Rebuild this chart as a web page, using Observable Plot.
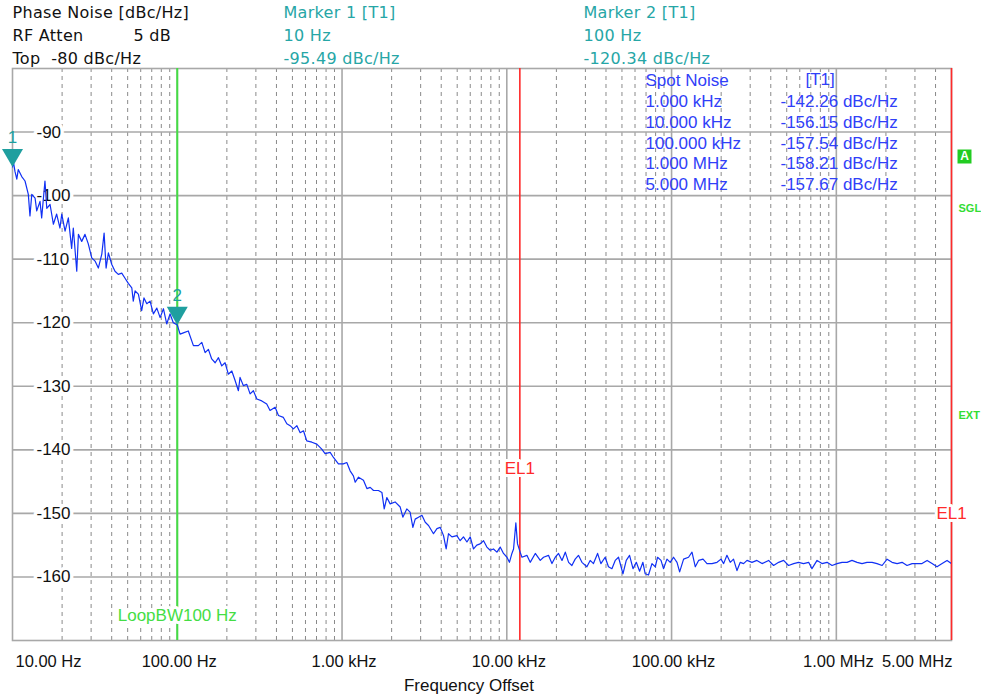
<!DOCTYPE html>
<html><head><meta charset="utf-8">
<script src="https://cdn.jsdelivr.net/npm/d3@7"></script>
<script src="https://cdn.jsdelivr.net/npm/@observablehq/plot@0.6"></script>
<style>
html,body{margin:0;padding:0;background:#fff;}
#chart svg text{white-space:pre;}
</style></head><body><div id="chart"></div>
<script>
const logFreq = [
1.000,1.005,1.015,1.026,1.035,1.056,1.076,1.096,1.106,1.117,1.137,1.147,1.167,1.177,1.197,1.208,1.228,1.248,1.268,1.288,
1.299,1.319,1.339,1.359,1.369,1.390,1.400,1.420,1.440,1.460,1.481,1.501,1.521,1.542,1.556,1.568,1.582,1.602,1.622,1.642,
1.663,1.683,1.703,1.724,1.733,1.744,1.764,1.784,1.798,1.815,1.835,1.855,1.876,1.896,1.916,1.936,1.956,1.976,2.000,2.017,
2.037,2.067,2.098,2.128,2.149,2.169,2.189,2.209,2.230,2.250,2.270,2.290,2.310,2.331,2.351,2.371,2.381,2.401,2.422,2.442,
2.462,2.483,2.513,2.543,2.563,2.594,2.614,2.644,2.665,2.685,2.705,2.726,2.746,2.766,2.786,2.817,2.847,2.877,2.897,2.928,
2.948,2.978,3.008,3.029,3.049,3.069,3.080,3.100,3.130,3.151,3.171,3.191,3.221,3.242,3.256,3.272,3.292,3.322,3.353,3.369,
3.393,3.413,3.430,3.444,3.464,3.485,3.505,3.525,3.555,3.576,3.596,3.616,3.632,3.646,3.667,3.697,3.717,3.737,3.758,3.778,
3.798,3.818,3.838,3.859,3.879,3.899,3.919,3.940,3.960,3.980,4.001,4.016,4.031,4.041,4.055,4.065,4.081,4.092,4.122,4.142,
4.173,4.203,4.223,4.253,4.274,4.294,4.314,4.335,4.355,4.375,4.395,4.415,4.435,4.456,4.486,4.506,4.526,4.551,4.571,4.597,
4.617,4.638,4.658,4.678,4.705,4.725,4.745,4.766,4.786,4.806,4.826,4.840,4.860,4.881,4.901,4.915,4.936,4.951,4.972,4.992,
5.012,5.033,5.049,5.073,5.103,5.124,5.144,5.164,5.191,5.215,5.245,5.276,5.300,5.316,5.336,5.356,5.376,5.397,5.417,5.437,
5.458,5.488,5.518,5.549,5.589,5.619,5.650,5.680,5.710,5.741,5.771,5.801,5.832,5.852,5.883,5.913,5.944,5.974,6.004,6.035,
6.065,6.095,6.126,6.156,6.186,6.217,6.247,6.278,6.308,6.338,6.369,6.399,6.429,6.460,6.490,6.520,6.551,6.581,6.611,6.642,
6.672,6.699
];
const noiseDbc = [
-95.5,-94.6,-96.2,-97.4,-95.9,-97.0,-97.7,-99.8,-103.2,-99.8,-100.4,-102.4,-100.9,-103.5,-97.7,-102.0,-101.4,-104.5,-102.9,-105.1,
-102.9,-105.6,-103.5,-108.3,-105.1,-111.9,-106.1,-107.2,-106.1,-107.6,-109.8,-110.3,-111.4,-109.2,-105.9,-111.4,-109.0,-110.8,-111.9,-112.4,
-112.2,-113.0,-113.8,-114.5,-116.6,-115.0,-115.5,-118.1,-116.1,-117.0,-116.6,-118.6,-117.7,-119.2,-117.8,-120.2,-118.6,-120.0,-120.34,-121.8,
-121.6,-121.3,-123.6,-123.6,-123.1,-124.7,-124.2,-125.7,-126.3,-125.5,-126.8,-126.3,-128.1,-127.6,-129.1,-130.7,-128.6,-129.9,-129.7,-131.2,
-130.7,-132.0,-132.3,-132.8,-133.8,-133.3,-134.6,-134.9,-135.9,-136.2,-136.7,-136.2,-137.3,-137.0,-138.6,-138.8,-139.1,-139.9,-140.6,-140.4,
-141.2,-142.2,-142.2,-142.0,-143.3,-144.1,-145.1,-144.3,-144.8,-146.1,-145.9,-146.4,-146.4,-146.7,-149.3,-147.5,-148.5,-148.2,-149.0,-150.6,
-149.3,-149.8,-152.2,-150.9,-150.6,-150.3,-151.4,-151.9,-153.2,-152.4,-152.2,-153.5,-155.6,-153.2,-153.7,-153.5,-154.3,-153.7,-154.5,-153.7,
-155.6,-155.0,-154.8,-154.3,-155.3,-155.8,-155.6,-156.1,-155.3,-156.3,-156.9,-157.7,-156.3,-155.6,-151.5,-154.8,-156.1,-156.9,-156.6,-157.7,
-156.3,-157.4,-156.9,-156.6,-157.9,-156.9,-156.3,-157.4,-156.1,-157.7,-158.2,-157.2,-156.6,-157.7,-158.4,-157.4,-157.9,-156.3,-157.9,-156.9,
-158.4,-158.7,-157.4,-156.9,-159.5,-157.4,-156.6,-158.7,-157.7,-159.1,-157.7,-159.5,-159.7,-157.9,-158.4,-156.9,-157.4,-158.7,-157.2,-157.7,
-156.9,-157.7,-159.2,-157.2,-156.9,-156.1,-158.4,-157.4,-157.2,-157.9,-157.9,-157.7,-157.2,-157.9,-156.6,-157.7,-157.2,-159.0,-157.7,-157.9,
-157.4,-157.7,-157.4,-157.9,-157.4,-158.2,-157.7,-157.4,-158.2,-157.9,-157.7,-157.9,-157.7,-158.7,-157.4,-157.9,-157.7,-158.2,-157.9,-157.7,
-157.7,-157.4,-157.7,-157.9,-157.7,-157.7,-157.9,-158.2,-157.2,-157.7,-157.9,-157.7,-158.2,-157.9,-157.9,-157.9,-157.4,-157.9,-158.4,-157.9,
-157.4,-157.9
];

const gridDecades = [10, 100, 1e3, 1e4, 1e5, 1e6];
const minorMultipliers = [2, 3, 4, 5, 6, 7, 8, 9];
const yTicks = [-90, -100, -110, -120, -130, -140, -150, -160];
const xTickValues = [10, 100, 1e3, 1e4, 1e5, 1e6, 5e6];
const xTickLabels = ["10.00 Hz", "100.00 Hz", "1.00 kHz", "10.00 kHz", "100.00 kHz", "1.00 MHz", "5.00 MHz"];

const markerFreq = [10, 100];
const markerVal = [-95.49, -120.34];
const markerNames = ["1", "2"];

const headerLeft = ["Phase Noise [dBc/Hz]", "RF Atten", "Top  -80 dBc/Hz"];
const headerAtten = "5 dB";
const marker1Info = ["Marker 1 [T1]", "10 Hz", "-95.49 dBc/Hz"];
const marker2Info = ["Marker 2 [T1]", "100 Hz", "-120.34 dBc/Hz"];

const spotTitle = ["Spot Noise", "[T1]"];
const spotFreqs = ["1.000 kHz", "10.000 kHz", "100.000 kHz", "1.000 MHz", "5.000 MHz"];
const spotVals = [-142.26, -156.15, -157.54, -158.21, -157.67];

const loopBwFreq = 100;
const loopBwLabel = "LoopBW100 Hz";
const edgeLineFreqs = [12e3, 5e6];
const edgeLabel = "EL1";
const xAxisTitle = "Frequency Offset";
const statusLabels = ["A", "SGL", "EXT"];

const trace = logFreq.map((l, i) => ({f: 10 ** l, v: noiseDbc[i]}));
const minorTicks = gridDecades.flatMap(d => minorMultipliers.map(m => d * m)).filter(f => f < 5e6);
const majorX = gridDecades.slice(1);
const markers = markerFreq.map((f, i) => ({f, v: markerVal[i], name: markerNames[i]}));
const xTicks = xTickValues.map((f, i) => ({f, label: xTickLabels[i]}));

const teal = "#1f9f9f";
const headTeal = "#26a6a6";
const blue = "#1030f4";
const tableBlue = "#3040f8";
const green = "#44dd44";
const red = "#ff2a2a";
const grid = "#a8a8a8";
const head = {fontSize: 16, fontFamily: "'DejaVu Sans', sans-serif", textAnchor: "start", lineAnchor: "middle", lineHeight: 1.44, ariaLabel: () => "header"};
const tick = {fontSize: 16.5, fill: "#111", frameAnchor: "bottom", lineAnchor: "middle", dy: 21};

const chart = Plot.plot({
  width: 981, height: 698,
  marginLeft: 12, marginRight: 30, marginTop: 68, marginBottom: 58,
  style: {fontFamily: "'Liberation Sans', Arial, sans-serif", fontSize: "16px", background: "white", overflow: "visible"},
  x: {type: "log", domain: [10, 5e6], axis: null},
  y: {domain: [-170, -80], axis: null},
  marks: [
    Plot.ruleX(minorTicks, {stroke: "#8a8a8a", strokeWidth: 1, strokeDasharray: "4,4"}),
    Plot.ruleX(majorX, {stroke: grid, strokeWidth: 1.6}),
    Plot.ruleY(yTicks, {stroke: grid, strokeWidth: 1.6}),
    Plot.frame({stroke: grid, strokeWidth: 1.6}),
    Plot.ruleX([loopBwFreq], {stroke: green, strokeWidth: 2}),
    Plot.ruleX(edgeLineFreqs, {stroke: red, strokeWidth: 1.6}),
    // y tick labels inside the frame
    Plot.text(yTicks, {x: 10, y: d => d, text: d => `${d}`, dx: 24, textAnchor: "start", fontSize: 17,
      fill: "#111", stroke: "white", strokeWidth: 7}),
    // trace
    Plot.line(trace, {x: "f", y: "v", stroke: blue, strokeWidth: 1.2, clip: "frame"}),
    // labels on lines
    Plot.text([loopBwFreq], {x: d => d, frameAnchor: "top", lineAnchor: "middle", dy: 547, text: () => loopBwLabel, fontSize: 17,
      fill: green, stroke: "white", strokeWidth: 6}),
    Plot.text([edgeLineFreqs[0]], {x: d => d, frameAnchor: "top", lineAnchor: "middle", dy: 400, text: () => edgeLabel, fontSize: 17,
      fill: red, stroke: "white", strokeWidth: 6}),
    Plot.text([edgeLineFreqs[1]], {x: d => d, frameAnchor: "top", lineAnchor: "middle", dy: 445, text: () => edgeLabel, fontSize: 17,
      fill: red, stroke: "white", strokeWidth: 6}),
    // markers
    Plot.dot(markers, {x: "f", y: "v", symbol: "triangle", r: 7.8, rotate: 180, dy: -12, fill: teal, stroke: "none"}),
    Plot.text(markers, {x: "f", y: "v", text: "name", dy: -29, fontSize: 17, fill: teal}),
    // spot noise table
    Plot.text([[spotTitle[0], ...spotFreqs].join("\n")], {text: d => d, frameAnchor: "top-left", dx: 633, dy: 63,
      lineAnchor: "middle", lineHeight: 1.224, fontSize: 17, fill: tableBlue, textAnchor: "start"}),
    Plot.text([spotTitle[1]], {text: d => d, frameAnchor: "top-left", dx: 793, dy: 11,
      lineAnchor: "middle", fontSize: 17, fill: tableBlue, textAnchor: "start"}),
    Plot.text([spotVals.map(v => `${v.toFixed(2)} dBc/Hz`).join("\n")], {text: d => d, frameAnchor: "top-left", dx: 768, dy: 73.5,
      lineAnchor: "middle", lineHeight: 1.224, fontSize: 17, fill: tableBlue, textAnchor: "start"}),
    // x tick labels
    Plot.text(xTicks.slice(0, 1), {...tick, x: "f", text: "label", textAnchor: "start", dx: 3}),
    Plot.text(xTicks.slice(1, -1), {...tick, x: "f", text: "label", textAnchor: "middle", dx: 2}),
    Plot.text(xTicks.slice(-1), {...tick, x: "f", text: "label", textAnchor: "end", dx: 1}),
    Plot.text([xAxisTitle], {text: d => d, frameAnchor: "bottom", lineAnchor: "middle", dx: -13, dy: 45, fontSize: 17, fill: "#111"}),
    // header
    Plot.text([headerLeft.join("\n")], {...head, text: d => d, frameAnchor: "top-left", dx: 0, dy: -35, fill: "#111"}),
    Plot.text([headerAtten], {...head, text: d => d, frameAnchor: "top-left", dx: 121, dy: -35, fill: "#111"}),
    Plot.text([marker1Info.join("\n")], {...head, text: d => d, frameAnchor: "top-left", dx: 271, dy: -35, fill: headTeal}),
    Plot.text([marker2Info.join("\n")], {...head, text: d => d, frameAnchor: "top-left", dx: 571, dy: -35, fill: headTeal}),
    // status box and labels at right
    Plot.dot([statusLabels[0]], {frameAnchor: "top-right", dx: 13, dy: 88, symbol: "square", r: 7.9, fill: "#22cc22", stroke: "none"}),
    Plot.text([statusLabels[0]], {text: d => d, frameAnchor: "top-right", dx: 13, dy: 88, textAnchor: "middle", lineAnchor: "middle", fontSize: 12, fontWeight: "bold", fill: "white"}),
    Plot.text([statusLabels[1]], {text: d => d, frameAnchor: "top-right", dx: 7, dy: 140, textAnchor: "start", lineAnchor: "middle", fontSize: 11, fontWeight: "bold", fill: "#33dd33"}),
    Plot.text([statusLabels[2]], {text: d => d, frameAnchor: "top-right", dx: 7, dy: 347, textAnchor: "start", lineAnchor: "middle", fontSize: 11, fontWeight: "bold", fill: "#33dd33"})
  ]
});
d3.select(chart).selectAll('text[aria-label="header"], g[aria-label="header"] text').attr("letter-spacing", "0.3px");
document.getElementById("chart").appendChild(chart);
</script></body></html>
